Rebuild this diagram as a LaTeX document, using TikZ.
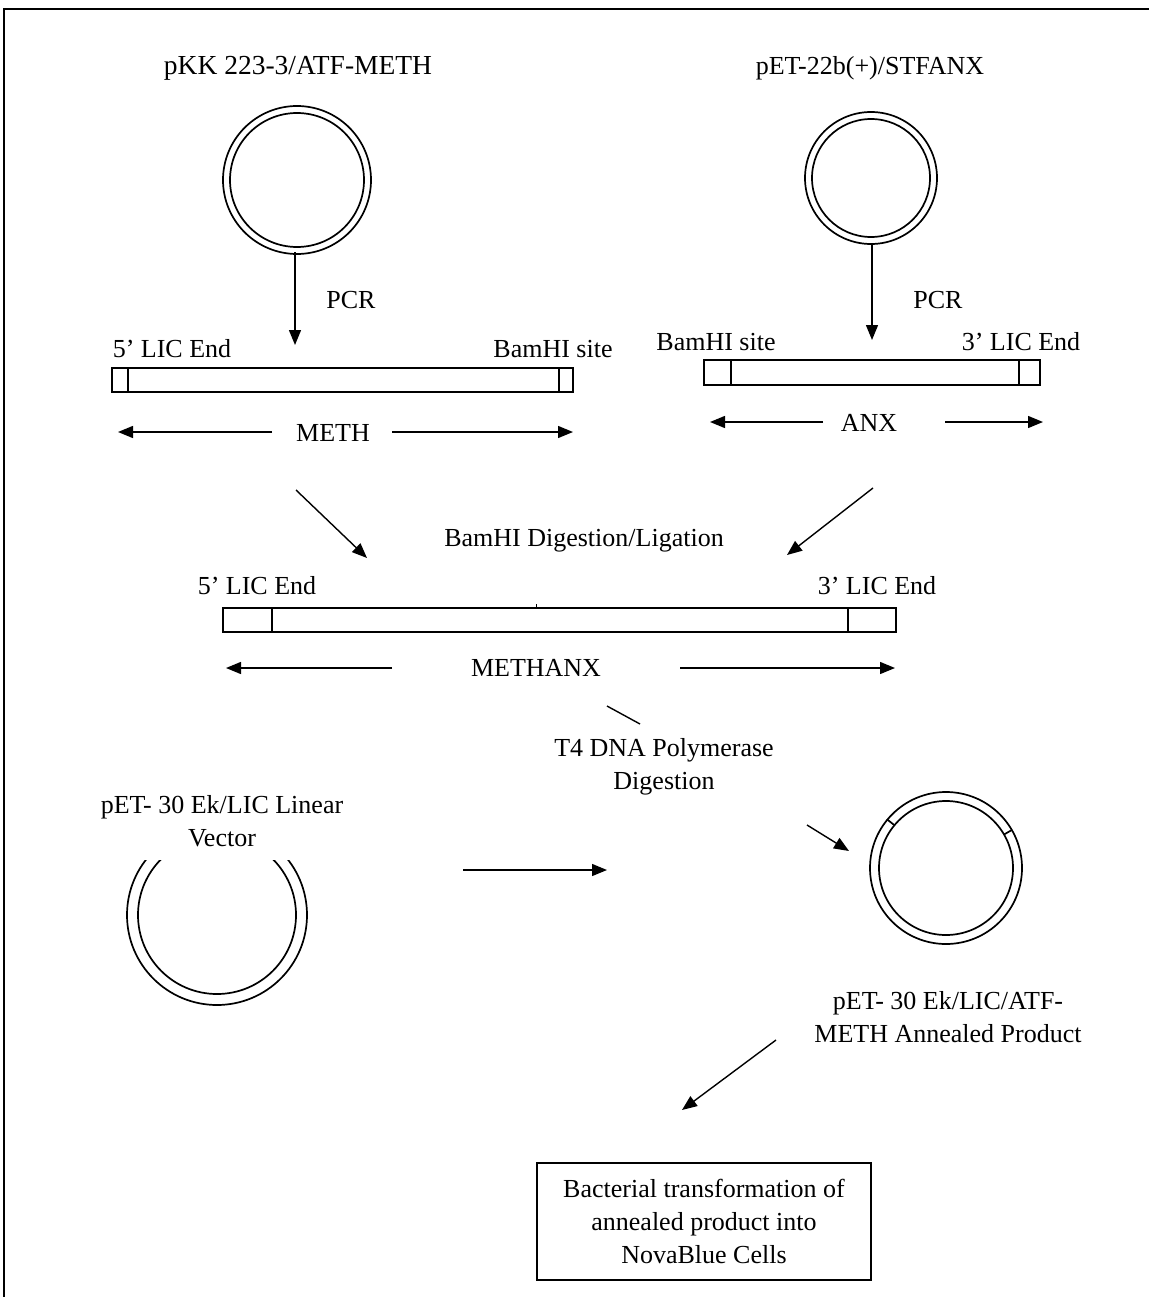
\documentclass[tikz,border=0pt]{standalone}
\usepackage{fontspec}
\setmainfont{Liberation Serif}
\usetikzlibrary{arrows.meta}
\begin{document}
\begin{tikzpicture}[x=1pt,y=-1pt,
  lbl/.style={inner sep=0pt, font=\fontsize{26}{33}\selectfont, align=center},
  arr/.style={line width=1.4pt, -{Triangle[length=15pt,width=12pt]}},
  ln/.style={line width=1.4pt},
  barbox/.style={line width=1.8pt},
  ring/.style={line width=1.7pt}]
\useasboundingbox (0,0) rectangle (1149,1297);
\draw[line width=2.4pt] (4,1297) -- (4,9) -- (1149,9);

% top plasmids
\node[lbl, font=\fontsize{27.5}{33}\selectfont] (t1) at (298,68) {pKK 223-3/ATF-METH};
\node[lbl] (t2) at (870,68) {pET-22b(+)/STFANX};
\node[ring, draw, circle, minimum size=148pt, inner sep=0pt] (c1) at (297,180) {};
\node[ring, draw, circle, minimum size=134pt, inner sep=0pt] (c1i) at (297,180) {};
\node[ring, draw, circle, minimum size=132pt, inner sep=0pt] (c2) at (871,178) {};
\node[ring, draw, circle, minimum size=118pt, inner sep=0pt] (c2i) at (871,178) {};

% PCR arrows
\coordinate (p1a) at (295,252); \coordinate (p1b) at (295,345);
\coordinate (p2a) at (872,245); \coordinate (p2b) at (872,340);
\draw[arr] (p1a) -- (p1b);
\draw[arr] (p2a) -- (p2b);
\node[lbl] (pcr1) at (351,300) {PCR};
\node[lbl] (pcr2) at (938,300) {PCR};

% bar 1 METH
\node[lbl] (l1a) at (172,349) {5’ LIC End};
\node[lbl] (l1b) at (553,349) {BamHI site};
\draw[barbox] (112,368) rectangle (573,392);
\draw[barbox] (128,368) -- (128,392) (559,368) -- (559,392);
\node[lbl] (meth) at (333,433) {METH};
\coordinate (m1) at (272,432); \coordinate (m1e) at (118,432);
\coordinate (m2) at (392,432); \coordinate (m2e) at (573,432);
\draw[arr] (m1) -- (m1e);
\draw[arr] (m2) -- (m2e);

% bar 2 ANX
\node[lbl] (l2a) at (716,342) {BamHI site};
\node[lbl] (l2b) at (1021,342) {3’ LIC End};
\draw[barbox] (704,360) rectangle (1040,385);
\draw[barbox] (731,360) -- (731,385) (1019,360) -- (1019,385);
\node[lbl] (anx) at (869,423) {ANX};
\coordinate (a1) at (823,422); \coordinate (a1e) at (710,422);
\coordinate (a2) at (945,422); \coordinate (a2e) at (1043,422);
\draw[arr] (a1) -- (a1e);
\draw[arr] (a2) -- (a2e);

% diagonal arrows
\coordinate (d1a) at (296,490); \coordinate (d1b) at (367,558);
\coordinate (d2a) at (873,488); \coordinate (d2b) at (787,555);
\draw[arr] (d1a) -- (d1b);
\draw[arr] (d2a) -- (d2b);
\node[lbl] (lig) at (584,541) {BamHI Digestion/Ligation};

% bar 3 METHANX
\node[lbl] (l3a) at (257,586) {5’ LIC End};
\node[lbl] (l3b) at (877,586) {3’ LIC End};
\draw[barbox] (223,608) rectangle (896,632);
\draw[barbox] (272,608) -- (272,632) (848,608) -- (848,632);
\draw[line width=0.8pt] (536,604) -- (536,607);
\node[lbl] (methanx) at (536,668) {METHANX};
\coordinate (x1) at (392,668); \coordinate (x1e) at (226,668);
\coordinate (x2) at (680,668); \coordinate (x2e) at (895,668);
\draw[arr] (x1) -- (x1e);
\draw[arr] (x2) -- (x2e);

% T4 step
\coordinate (s1) at (607,706); \coordinate (s2) at (640,724);
\draw[ln] (s1) -- (s2);
\node[lbl] (t4) at (664,767) {T4 DNA Polymerase\\Digestion};
\coordinate (e1) at (807,825); \coordinate (e2) at (849,851);
\draw[arr] (e1) -- (e2);

% linear vector
\node[lbl] (vec) at (222,821) {pET- 30 Ek/LIC Linear\\Vector};
\begin{scope}
  \clip (100,860) rectangle (340,1030);
  \node[ring, draw, circle, minimum size=180pt, inner sep=0pt] (v1) at (217,915) {};
  \node[ring, draw, circle, minimum size=158pt, inner sep=0pt] (v1i) at (217,915) {};
\end{scope}
\coordinate (h1) at (463,870); \coordinate (h2) at (607,870);
\draw[arr] (h1) -- (h2);

% annealed product
\node[ring, draw, circle, minimum size=152pt, inner sep=0pt] (ap) at (946,868) {};
\node[ring, draw, circle, minimum size=134pt, inner sep=0pt] (api) at (946,868) {};
\draw[ring] (893.9,824.8) -- (886.9,819.2);
\draw[ring] (1004,834.5) -- (1011.8,830);
\node[lbl] (apt) at (948,1017) {pET- 30 Ek/LIC/ATF-\\METH Annealed Product};
\coordinate (f1) at (776,1040); \coordinate (f2) at (682,1110);
\draw[arr] (f1) -- (f2);

% final box
\node[draw, line width=1.8pt, minimum width=334pt, minimum height=117pt, lbl] (box) at (704,1221.5) {Bacterial transformation of\\annealed product into\\NovaBlue Cells};
\end{tikzpicture}
\end{document}
